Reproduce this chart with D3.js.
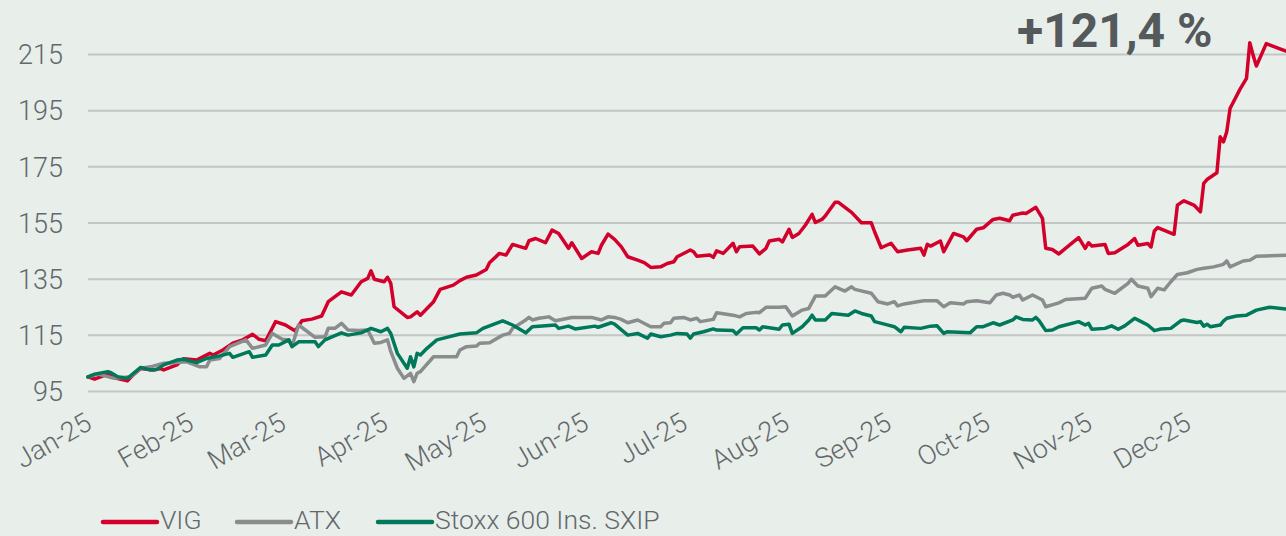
<!DOCTYPE html>
<html>
<head>
<meta charset="utf-8">
<script src="https://cdn.jsdelivr.net/npm/d3@7"></script>
<style>
  html, body { margin: 0; padding: 0; background: #e8eeea; }
  svg { display: block; }
</style>
</head>
<body>
<svg id="chart" width="1286" height="536"></svg>
<script>
// ---------------- DATA ----------------
const monthTicks = ["2025-01-01","2025-02-01","2025-03-01","2025-04-01","2025-05-01","2025-06-01",
                    "2025-07-01","2025-08-01","2025-09-01","2025-10-01","2025-11-01","2025-12-01"];
const monthLabels = ["Jan-25","Feb-25","Mar-25","Apr-25","May-25","Jun-25",
                     "Jul-25","Aug-25","Sep-25","Oct-25","Nov-25","Dec-25"];
const yTicks = [95, 115, 135, 155, 175, 195, 215];

const seriesNames = ["VIG", "ATX", "Stoxx 600 Ins. SXIP"];
const annotationText = "+121,4 %";

const vigDates = ["2025-01-01","2025-01-03","2025-01-07","2025-01-09","2025-01-13","2025-01-15","2025-01-17","2025-01-21","2025-01-23","2025-01-24",
  "2025-01-28","2025-01-30","2025-02-03","2025-02-07","2025-02-08","2025-02-11","2025-02-14","2025-02-17","2025-02-20","2025-02-22",
  "2025-02-24","2025-02-27","2025-03-02","2025-03-05","2025-03-07","2025-03-10","2025-03-13","2025-03-15","2025-03-19","2025-03-22",
  "2025-03-25","2025-03-27","2025-03-28","2025-03-29","2025-04-01","2025-04-02","2025-04-03","2025-04-04","2025-04-08","2025-04-09",
  "2025-04-11","2025-04-12","2025-04-16","2025-04-18","2025-04-22","2025-04-24","2025-04-26","2025-04-29","2025-05-02","2025-05-03",
  "2025-05-06","2025-05-08","2025-05-10","2025-05-14","2025-05-15","2025-05-17","2025-05-20","2025-05-22","2025-05-24","2025-05-27",
  "2025-05-28","2025-05-31","2025-06-03","2025-06-05","2025-06-06","2025-06-08","2025-06-10","2025-06-12","2025-06-14","2025-06-17",
  "2025-06-19","2025-06-21","2025-06-24","2025-06-26","2025-06-28","2025-06-29","2025-07-02","2025-07-03","2025-07-04","2025-07-05",
  "2025-07-09","2025-07-10","2025-07-11","2025-07-13","2025-07-16","2025-07-17","2025-07-18","2025-07-22","2025-07-24","2025-07-26",
  "2025-07-27","2025-07-30","2025-07-31","2025-08-02","2025-08-03","2025-08-05","2025-08-07","2025-08-09","2025-08-10","2025-08-12",
  "2025-08-13","2025-08-16","2025-08-17","2025-08-21","2025-08-24","2025-08-27","2025-08-28","2025-08-30","2025-09-02","2025-09-04",
  "2025-09-07","2025-09-11","2025-09-12","2025-09-13","2025-09-14","2025-09-17","2025-09-18","2025-09-21","2025-09-24","2025-09-25",
  "2025-09-28","2025-09-30","2025-10-03","2025-10-05","2025-10-08","2025-10-09","2025-10-12","2025-10-13","2025-10-16","2025-10-18",
  "2025-10-19","2025-10-21","2025-10-23","2025-10-25","2025-10-29","2025-10-31","2025-11-01","2025-11-02","2025-11-06","2025-11-07",
  "2025-11-09","2025-11-13","2025-11-15","2025-11-16","2025-11-19","2025-11-20","2025-11-21","2025-11-22","2025-11-27","2025-11-28",
  "2025-11-29","2025-11-30","2025-12-03","2025-12-05","2025-12-06","2025-12-07","2025-12-10","2025-12-11","2025-12-12","2025-12-13",
  "2025-12-14","2025-12-17","2025-12-19","2025-12-20","2025-12-21","2025-12-22","2025-12-25","2025-12-31"];
const vigValues = [100,99.2,101,99.7,98.6,101,103,102.5,103,102.5,
  104.3,106.5,106,108.4,107.8,109.6,112,113.2,115.2,113.4,
  112.9,119.7,118.5,116.4,120,120.6,121.7,126.8,130.3,129.2,
  133.9,135.1,137.8,134.8,133.9,135.5,133.3,125,121.2,121.4,
  123.2,122,126.8,131.2,132.7,134.3,135.5,136.3,138.3,140.7,
  144,143.4,147.2,145.8,148.5,149.3,147.8,152.3,151.1,145.8,
  147.8,142.2,144.6,144,146.9,150.9,149,146.4,142.8,141.6,
  140.7,139,139.2,140.4,141,142.8,144.6,145.2,144.6,143,
  143.4,142.6,144.9,144,147.6,144.6,146.4,146.6,143.8,145.8,
  148.4,149,148.1,152.6,149.7,151.1,154.1,157.9,155,156.1,
  157.3,162.2,162.2,158.6,154.9,154.9,151.7,146,147.6,144.6,
  145.2,145.8,143.4,147.2,146.6,148.4,144.6,151.1,149.9,148.5,
  152.6,153.1,156.1,156.5,155.6,157.6,158.4,158.2,160.4,156.5,
  145.8,145.4,143.8,145.8,149.6,145.8,147.8,146.6,147.2,144,
  144.2,147.2,149.3,146.9,147.5,146.3,152,153.2,150.8,161.2,
  162,162.7,161.2,158.8,168.9,170.3,172.7,185.5,183.7,187.3,
  195.6,202.4,206.3,219,214.6,210.7,218.7,216];

const atxDates = ["2025-01-01","2025-01-04","2025-01-07","2025-01-09","2025-01-14","2025-01-17","2025-01-20","2025-01-24","2025-01-27","2025-01-31",
  "2025-02-04","2025-02-06","2025-02-07","2025-02-10","2025-02-13","2025-02-18","2025-02-20","2025-02-24","2025-02-26","2025-03-01",
  "2025-03-03","2025-03-04","2025-03-06","2025-03-11","2025-03-14","2025-03-15","2025-03-17","2025-03-19","2025-03-21","2025-03-24",
  "2025-03-27","2025-03-29","2025-03-31","2025-04-02","2025-04-03","2025-04-05","2025-04-07","2025-04-09","2025-04-10","2025-04-11",
  "2025-04-12","2025-04-16","2025-04-23","2025-04-24","2025-04-26","2025-04-29","2025-04-30","2025-05-03","2025-05-07","2025-05-09",
  "2025-05-10","2025-05-14","2025-05-15","2025-05-16","2025-05-18","2025-05-21","2025-05-23","2025-05-28","2025-06-03","2025-06-06",
  "2025-06-08","2025-06-10","2025-06-12","2025-06-14","2025-06-17","2025-06-21","2025-06-24","2025-06-25","2025-06-27","2025-06-28",
  "2025-07-01","2025-07-03","2025-07-05","2025-07-06","2025-07-10","2025-07-11","2025-07-16","2025-07-18","2025-07-20","2025-07-23",
  "2025-07-24","2025-07-26","2025-07-30","2025-08-01","2025-08-03","2025-08-06","2025-08-08","2025-08-10","2025-08-13","2025-08-16",
  "2025-08-19","2025-08-21","2025-08-22","2025-08-27","2025-08-29","2025-09-01","2025-09-03","2025-09-04","2025-09-06","2025-09-10",
  "2025-09-12","2025-09-16","2025-09-18","2025-09-20","2025-09-24","2025-09-25","2025-09-28","2025-10-02","2025-10-04","2025-10-06",
  "2025-10-08","2025-10-09","2025-10-11","2025-10-12","2025-10-15","2025-10-18","2025-10-19","2025-10-23","2025-10-25","2025-10-31",
  "2025-11-02","2025-11-05","2025-11-06","2025-11-09","2025-11-13","2025-11-14","2025-11-16","2025-11-19","2025-11-20","2025-11-22",
  "2025-11-24","2025-11-26","2025-11-28","2025-12-01","2025-12-04","2025-12-06","2025-12-09","2025-12-12","2025-12-13","2025-12-14",
  "2025-12-18","2025-12-20","2025-12-22","2025-12-31"];
const atxValues = [100,101,100.1,99.5,100.1,103.1,103.6,104.9,105.1,105.4,
  103.6,103.6,106,106.6,110.8,113.2,110.2,111.4,115.5,113.4,
  113.2,111,118.5,114.1,114.3,117.3,117.3,119.1,116.7,116.5,
  116.7,112,112.3,113.2,109,103.1,99.5,101.3,98.3,101.3,
  101.9,107.2,107.2,109.6,110.8,111,112,112.2,114.9,115.5,
  117.3,120.3,121.2,120.3,120.9,121.4,120,121.2,121.2,120.3,
  121.4,121.2,120.5,119.3,120.3,117.9,117.9,119.1,119.3,120.9,
  121.2,120.3,120.9,119.7,120.5,122.9,122,121.4,122.6,123,
  122.9,124.8,124.8,125,121.7,123.8,124.4,128.8,128.8,132.1,
  130.6,132.1,131.2,129.8,126.8,126,126.8,125.3,126,126.8,
  127.1,127.1,125,126.4,126,126.8,127.1,126.4,129.2,129.8,
  129.2,128.3,129.2,127.4,129.2,127.4,125,126.4,127.6,128,
  131.6,132.4,131.2,129.8,133.3,134.8,132.4,131.6,128.6,131.6,
  131,133.9,136.5,137.1,138.3,138.7,139.2,140.1,141.3,139.2,
  141.3,141.6,143,143.3];

const sxipDates = ["2025-01-01","2025-01-03","2025-01-07","2025-01-08","2025-01-10","2025-01-13","2025-01-17","2025-01-20","2025-01-22","2025-01-24",
  "2025-01-28","2025-01-30","2025-02-03","2025-02-06","2025-02-10","2025-02-13","2025-02-14","2025-02-19","2025-02-20","2025-02-24",
  "2025-02-26","2025-02-28","2025-03-03","2025-03-04","2025-03-06","2025-03-11","2025-03-12","2025-03-14","2025-03-19","2025-03-21",
  "2025-03-25","2025-03-28","2025-03-31","2025-04-02","2025-04-03","2025-04-05","2025-04-08","2025-04-09","2025-04-10","2025-04-11",
  "2025-04-12","2025-04-14","2025-04-17","2025-04-20","2025-04-24","2025-04-29","2025-05-01","2025-05-07","2025-05-10","2025-05-14",
  "2025-05-16","2025-05-23","2025-05-24","2025-05-27","2025-05-29","2025-06-04","2025-06-05","2025-06-09","2025-06-10","2025-06-14",
  "2025-06-17","2025-06-20","2025-06-21","2025-06-24","2025-06-27","2025-06-29","2025-07-02","2025-07-03","2025-07-04","2025-07-07",
  "2025-07-10","2025-07-11","2025-07-16","2025-07-17","2025-07-19","2025-07-23","2025-07-24","2025-07-25","2025-07-30","2025-07-31",
  "2025-08-02","2025-08-03","2025-08-06","2025-08-08","2025-08-09","2025-08-10","2025-08-13","2025-08-15","2025-08-20","2025-08-22",
  "2025-08-24","2025-08-27","2025-08-28","2025-08-31","2025-09-03","2025-09-05","2025-09-06","2025-09-11","2025-09-14","2025-09-16",
  "2025-09-18","2025-09-19","2025-09-26","2025-09-28","2025-09-30","2025-10-03","2025-10-05","2025-10-09","2025-10-10","2025-10-12",
  "2025-10-15","2025-10-16","2025-10-17","2025-10-19","2025-10-21","2025-10-23","2025-10-29","2025-10-31","2025-11-01","2025-11-02",
  "2025-11-06","2025-11-08","2025-11-10","2025-11-12","2025-11-15","2025-11-17","2025-11-19","2025-11-21","2025-11-23","2025-11-26",
  "2025-11-29","2025-11-30","2025-12-04","2025-12-05","2025-12-06","2025-12-07","2025-12-08","2025-12-11","2025-12-12","2025-12-13",
  "2025-12-16","2025-12-19","2025-12-22","2025-12-26","2025-12-31"];
const sxipValues = [100,101,101.9,101.5,100.1,99.5,103.4,102.5,102.7,104.3,
  106,106.3,105.1,106.6,107.5,108.4,107,109,107,107.8,
  111.4,111.4,113.2,110.8,112.5,112.5,110.8,113.2,115.7,114.9,
  115.7,117.3,116.1,117.3,115.5,108.4,103.1,107.2,103.6,108.4,
  107.8,110.2,113.2,114.1,115.3,115.7,117.3,120,118.5,115.7,
  117.9,118.5,117.3,118.1,117.1,118.1,117.7,119.3,118.8,114.9,
  115.5,113.8,115.3,114.3,114.9,115.5,115.3,113.8,115.3,116.1,
  117.1,116.7,116.5,115.3,117.5,117.5,116.7,117.9,117,118.5,
  118.8,115.5,117.9,120.3,122,120.3,120.3,122.6,122,123.5,
  122.6,121.7,119.7,118.8,117.9,116.1,117.7,117.3,118.1,118.2,
  115.5,116.1,115.7,117.9,117.9,119.3,118.5,120.3,121.4,120.5,
  120.3,121.2,120,116.5,116.7,117.9,119.7,118.5,119.1,117,
  117.3,118.2,117,118.2,120.9,119.7,118.5,116.5,117.1,117.3,
  120,120.3,119.4,119.7,118.1,118.8,117.9,118.5,119.9,120.9,
  121.7,122,123.8,124.8,124.2];

// ---------------- CHART ----------------
const W = 1286, H = 536;
const margin = { left: 88, right: 0 };
const parse = d3.utcParse("%Y-%m-%d");
const svg = d3.select("#chart");

svg.append("rect").attr("width", W).attr("height", H).attr("fill", "#e8eeea");

const x = d3.scaleUtc()
  .domain([parse("2025-01-01"), parse("2025-12-31")])
  .range([margin.left, W - margin.right]);
const y = d3.scaleLinear().domain([95, 215]).range([391, 54]);

const fontFam = "Roboto, 'Noto Sans', sans-serif";
const textCol = "#63686b";
const fs = 27;

// Y axis with grid
const yAxis = svg.append("g")
  .attr("transform", `translate(${margin.left},0)`)
  .call(d3.axisLeft(y).tickValues(yTicks).tickSize(-(W - margin.left)).tickPadding(25).tickFormat(d3.format("d")));
yAxis.select(".domain").remove();
yAxis.selectAll(".tick line").attr("stroke", "#c3c6c5").attr("stroke-width", 2);
yAxis.selectAll(".tick text")
  .attr("fill", textCol).attr("font-family", fontFam).attr("font-weight", 300)
  .attr("font-size", fs).attr("dy", "0.36em");

// X axis labels
const xAxis = svg.append("g")
  .attr("transform", `translate(0,406)`)
  .call(d3.axisBottom(x).tickValues(monthTicks.map(parse)).tickSize(0)
        .tickFormat((d, i) => monthLabels[i]));
xAxis.select(".domain").remove();
xAxis.selectAll(".tick text")
  .attr("fill", textCol).attr("font-family", fontFam).attr("font-weight", 300)
  .attr("font-size", fs)
  .attr("text-anchor", "end")
  .attr("x", 0).attr("y", 0).attr("dy", 0)
  .attr("transform", "translate(5,22) rotate(-30)");

// Lines
const series = [
  { dates: vigDates, values: vigValues, color: "#d4002c" },
  { dates: atxDates, values: atxValues, color: "#8a8c8d" },
  { dates: sxipDates, values: sxipValues, color: "#00785a" }
];
const line = d3.line().x(d => x(d[0])).y(d => y(d[1]));
series.forEach(s => {
  const pts = s.dates.map((d, i) => [parse(d), s.values[i]]);
  svg.append("path").datum(pts)
    .attr("d", line)
    .attr("fill", "none")
    .attr("stroke", s.color)
    .attr("stroke-width", 3.5)
    .attr("stroke-linejoin", "round")
    .attr("stroke-linecap", "round");
});

// Annotation
svg.append("text")
  .attr("x", 1017).attr("y", 47)
  .attr("font-family", fontFam).attr("font-weight", 700)
  .attr("font-size", 48).attr("fill", "#54595c")
  .text(annotationText);

// Legend
const legendX = [103, 237, 378];
const legend = svg.append("g");
series.forEach((s, i) => {
  legend.append("line")
    .attr("x1", legendX[i]).attr("x2", legendX[i] + 54)
    .attr("y1", 522).attr("y2", 522)
    .attr("stroke", s.color).attr("stroke-width", 4.5).attr("stroke-linecap", "round");
  legend.append("text")
    .attr("x", legendX[i] + 57).attr("y", 529)
    .attr("font-family", fontFam).attr("font-weight", 300)
    .attr("font-size", 26.5).attr("fill", textCol)
    .text(seriesNames[i]);
});
</script>
</body>
</html>
